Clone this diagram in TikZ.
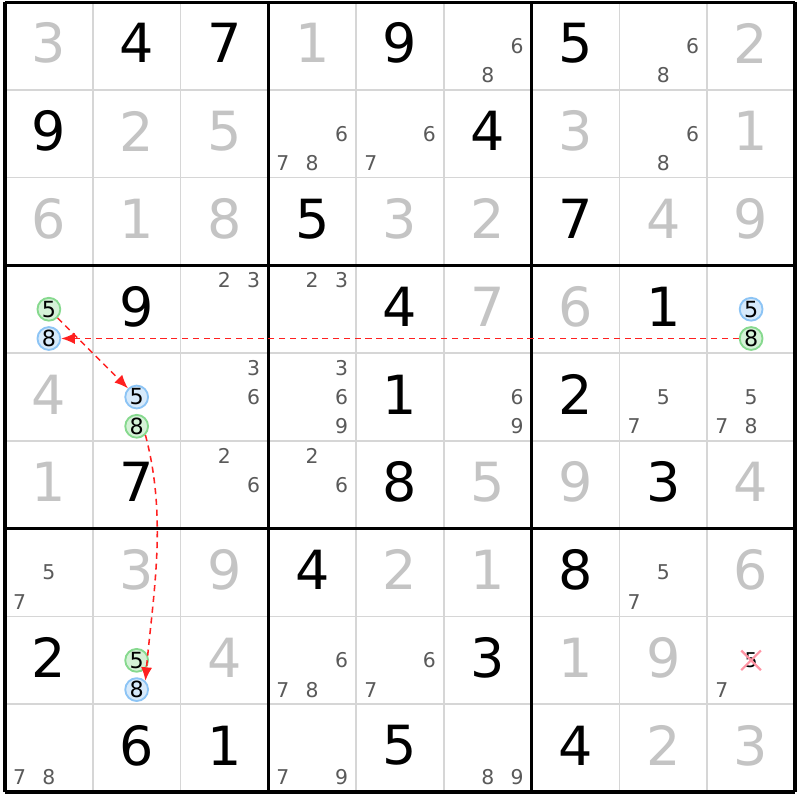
\documentclass[tikz,border=0pt]{standalone}
\usepackage{fontspec}
\setmainfont{DejaVu Sans}
\usetikzlibrary{arrows.meta, positioning, shapes.misc}

\definecolor{solvedgray}{HTML}{C4C4C4}
\definecolor{candgray}{HTML}{5A5A5A}
\definecolor{thingray}{HTML}{D6D6D6}
\definecolor{ongreen}{HTML}{86D98E}
\definecolor{offblue}{HTML}{8CC4F5}
\definecolor{linkred}{HTML}{FF2020}
\definecolor{xpink}{HTML}{FF94A4}

\tikzset{
  given/.style={font=\fontsize{17.5}{17.5}\selectfont, text=black, inner sep=0pt, yshift=0.3mm},
  solved/.style={given, text=solvedgray},
  cand/.style={font=\fontsize{6.6}{6.6}\selectfont, text=candgray, inner sep=0pt},
  oncand/.style={cand, font=\fontsize{7.2}{7.2}\selectfont, text=black, circle, minimum size=0.26cm, line width=0.6pt, draw=ongreen, fill=ongreen!35},
  offcand/.style={oncand, draw=offblue, fill=offblue!35},
  gone/.style={cand, text=black, cross out, minimum size=0.2cm, line width=0.7pt, draw=xpink},
  link/.style={linkred, line width=0.5pt, dash pattern=on 2pt off 1.5pt, -{Latex[length=4.4pt,width=3.6pt]}}
}

\begin{document}
\begin{tikzpicture}
    \fill[white] (-0.057,0.023) rectangle (9.057,-9.09);
    \useasboundingbox (-0.057,0.023) rectangle (9.057,-9.09);

    % Grid
    \draw[thingray, line width=0.5pt] (0,-9) grid (9,0);
    \draw[black, line width=1pt] (0,-9) grid[step=3] (9,0);

    % Givens
    \foreach \r/\c/\d in {1/2/4, 1/3/7, 1/5/9, 1/7/5, 2/1/9, 2/6/4, 3/4/5, 3/7/7,
        4/2/9, 4/5/4, 4/8/1, 5/5/1, 5/7/2, 6/2/7, 6/5/8, 6/8/3, 7/4/4, 7/7/8,
        8/1/2, 8/6/3, 9/2/6, 9/3/1, 9/5/5, 9/7/4}
        \node[given] (v-\r-\c) at (\c-0.5, 0.5-\r) {\d};

    % Solved cells
    \foreach \r/\c/\d in {1/1/3, 1/4/1, 1/9/2, 2/2/2, 2/3/5, 2/7/3, 2/9/1,
        3/1/6, 3/2/1, 3/3/8, 3/5/3, 3/6/2, 3/8/4, 3/9/9, 4/6/7, 4/7/6, 5/1/4,
        6/1/1, 6/6/5, 6/7/9, 6/9/4, 7/2/3, 7/3/9, 7/5/2, 7/6/1, 7/9/6,
        8/3/4, 8/7/1, 8/8/9, 9/8/2, 9/9/3}
        \node[solved] (v-\r-\c) at (\c-0.5, 0.5-\r) {\d};

    % Pencil marks
    \foreach \r/\c/\d in {1/6/6, 1/6/8, 1/8/6, 1/8/8, 2/4/6, 2/4/7, 2/4/8, 2/5/6, 2/5/7,
        2/8/6, 2/8/8, 4/3/2, 4/3/3, 4/4/2, 4/4/3, 5/3/3, 5/3/6, 5/4/3, 5/4/6, 5/4/9,
        5/6/6, 5/6/9, 5/8/5, 5/8/7, 5/9/5, 5/9/7, 5/9/8, 6/3/2, 6/3/6, 6/4/2, 6/4/6,
        7/1/5, 7/1/7, 7/8/5, 7/8/7, 8/4/6, 8/4/7, 8/4/8, 8/5/6, 8/5/7, 8/9/7,
        9/1/7, 9/1/8, 9/4/7, 9/4/9, 9/6/8, 9/6/9}
        \node[cand] (p-\r-\c-\d) at ({\c-5/6+mod(\d-1,3)/3}, {5/6-\r-div(\d-1,3)/3}) {\d};

    % Chain candidates
    \node[oncand]  (h-4-1-5) at (0.5, -3.5) {5};
    \node[offcand] (h-4-1-8) at (0.5, -3.8333) {8};
    \node[offcand] (h-4-9-5) at (8.5, -3.5) {5};
    \node[oncand]  (h-4-9-8) at (8.5, -3.8333) {8};
    \node[offcand] (h-5-2-5) at (1.5, -4.5) {5};
    \node[oncand]  (h-5-2-8) at (1.5, -4.8333) {8};
    \node[oncand]  (h-8-2-5) at (1.5, -7.5) {5};
    \node[offcand] (h-8-2-8) at (1.5, -7.8333) {8};

    % Eliminated candidate
    \node[gone] (x-8-9-5) at (8.5, -7.5) {5};

    % Links
    \draw[link] (h-4-9-8) -- (h-4-1-8);
    \draw[link] (h-4-1-5) -- (h-5-2-5);
    \draw[link] (h-5-2-8.-45) to[out=-75, in=85, looseness=0.9] (h-8-2-8.45);
\end{tikzpicture}
\end{document}
